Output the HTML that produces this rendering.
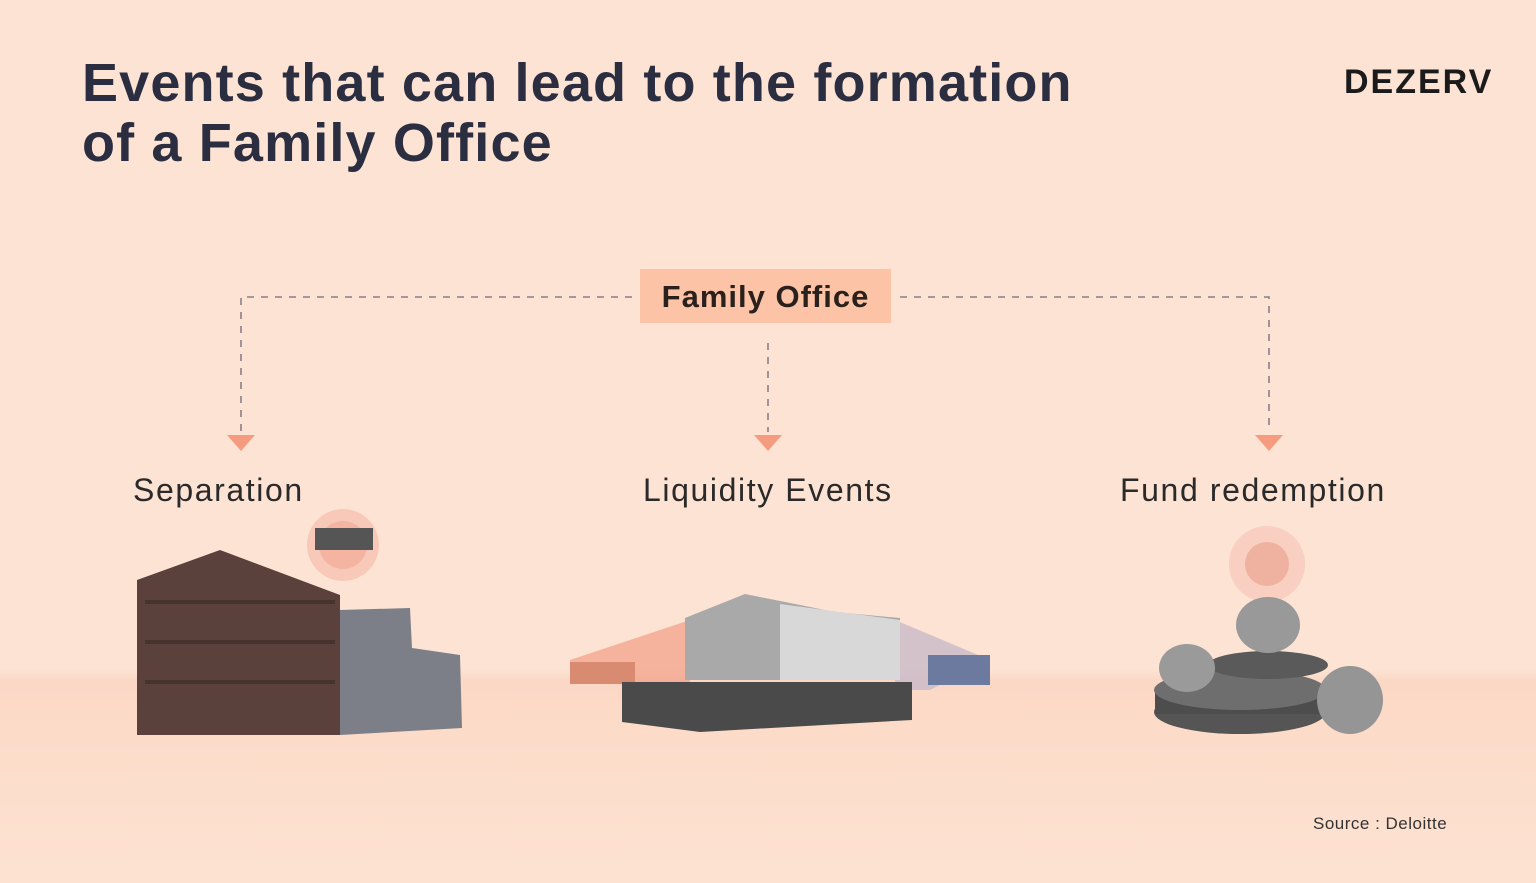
<!DOCTYPE html>
<html><head><meta charset="utf-8"><style>
html,body{margin:0;padding:0}
body{width:1536px;height:883px;overflow:hidden;position:relative;font-family:"Liberation Sans",sans-serif;
background:linear-gradient(#fde3d3 0,#fde3d3 670px,#fbd8c5 680px,#fcdcc9 740px,#fde2d2 883px);}
.t{position:absolute;color:#2a2d3e;font-weight:bold}
h1{position:absolute;left:82px;top:53px;margin:0;font-size:54px;line-height:60px;color:#2b2e40;font-weight:bold;letter-spacing:1.15px;white-space:nowrap}
.lbl{position:absolute;font-size:32px;color:#2a2a2a;top:472px;letter-spacing:1.6px;white-space:nowrap}
</style></head><body>
<h1>Events that can lead to the formation<br>of a Family Office</h1>
<div class="t" style="left:1344px;top:63px;font-size:34px;letter-spacing:2px;color:#1b1b1b">DEZERV</div>
<div style="position:absolute;left:640px;top:269px;width:251px;height:54px;background:#fdc3a6"></div>
<div class="t" style="left:640px;top:279px;width:251px;text-align:center;font-size:31px;color:#2a211d;letter-spacing:1px">Family Office</div>
<svg width="1536" height="883" style="position:absolute;left:0;top:0">
<g stroke="#8a7f88" stroke-width="1.6" stroke-dasharray="7,7" fill="none">
<path d="M632 297 H241 V432"/><path d="M900 297 H1269 V432"/><path d="M768 343 V432"/>
</g>
<g fill="#f59c80"><path d="M227 435h28l-14 16z"/><path d="M754 435h28l-14 16z"/><path d="M1255 435h28l-14 16z"/></g>
<circle cx="343" cy="545" r="36" fill="#f8c9b8"/><circle cx="343" cy="545" r="24" fill="#f5b3a1"/>
<rect x="315" y="528" width="58" height="22" fill="#555"/>
<path d="M137 580 L220 550 L340 595 L340 735 L137 735Z" fill="#5a413b"/>
<path d="M340 610 L410 608 L412 648 L460 655 L462 728 L340 735Z" fill="#7d7f88"/>
<g fill="#3b2a26" opacity=".6"><rect x="145" y="600" width="190" height="4"/><rect x="145" y="640" width="190" height="4"/><rect x="145" y="680" width="190" height="4"/></g>
<path d="M570 660 L690 620 L690 690 L570 680Z" fill="#f3a58f" opacity=".8"/>
<rect x="570" y="662" width="65" height="22" fill="#d98b72"/>
<path d="M895 620 L990 660 L930 690 L895 690Z" fill="#c8b9c8" opacity=".8"/>
<rect x="928" y="655" width="62" height="30" fill="#6d7aa0"/>
<path d="M685 618 L745 594 L835 612 L900 618 L900 680 L685 680Z" fill="#a9a9a9"/>
<path d="M780 604 L900 620 L900 680 L780 680Z" fill="#d8d8d8"/>
<path d="M622 682 L912 682 L912 720 L700 732 L622 722Z" fill="#4a4a4a"/>
<circle cx="1267" cy="564" r="38" fill="#f8cfc0"/><circle cx="1267" cy="564" r="22" fill="#f0b2a0"/>
<ellipse cx="1240" cy="712" rx="86" ry="22" fill="#555"/>
<rect x="1155" y="690" width="170" height="24" fill="#4d4d4d"/>
<ellipse cx="1240" cy="690" rx="86" ry="20" fill="#6e6e6e"/>
<ellipse cx="1268" cy="665" rx="60" ry="14" fill="#5a5a5a"/>
<ellipse cx="1268" cy="625" rx="32" ry="28" fill="#999"/>
<ellipse cx="1187" cy="668" rx="28" ry="24" fill="#9a9a9a"/>
<ellipse cx="1350" cy="700" rx="33" ry="34" fill="#959595"/>
</svg>
<div class="lbl" style="left:133px">Separation</div>
<div class="lbl" style="left:643px">Liquidity Events</div>
<div class="lbl" style="left:1120px">Fund redemption</div>
<div style="position:absolute;left:1313px;top:814px;font-size:17px;color:#333;letter-spacing:.5px">Source : Deloitte</div>
</body></html>
